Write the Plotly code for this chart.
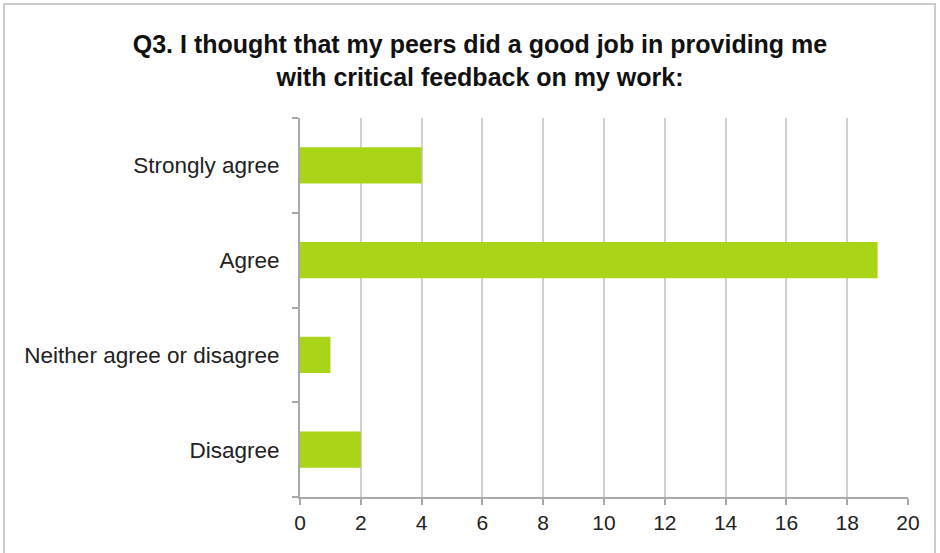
import plotly.graph_objects as go

categories = ["Strongly agree", "Agree", "Neither agree or disagree", "Disagree"]
counts = [4, 19, 1, 2]
x_ticks = list(range(0, 21, 2))

title_text = "<b>Q3. I thought that my peers did a good job in providing me<br>with critical feedback on my work:</b>"

W, H = 940, 553
L, R, T, B = 300, 32, 118, 56
pw, ph = W - L - R, H - T - B

fig = go.Figure(go.Bar(
    x=counts, y=categories, orientation="h",
    marker=dict(color="#aad418", line=dict(width=0)),
    width=0.38,
))

def px_to_paper(px, py):
    return (px - L) / pw, (H - B - py) / ph

x0, y0 = px_to_paper(4, 4)
x1, y1 = px_to_paper(935, 600)

fig.update_layout(
    width=W, height=H,
    margin=dict(l=L, r=R, t=T, b=B, autoexpand=False),
    paper_bgcolor="white", plot_bgcolor="white",
    showlegend=False,
    title=dict(text=title_text, x=(480 / W), xanchor="center", y=1 - 53 / H, yanchor="top",
               font=dict(family="Liberation Sans, Arial, sans-serif", size=25, color="#111111")),
    font=dict(family="Liberation Sans, Arial, sans-serif", size=22, color="#222222"),
    xaxis=dict(range=[0, 20], tickvals=x_ticks, showgrid=True, gridcolor="#d0d0d0", gridwidth=2,
               showline=True, linecolor="#a8a8a8", linewidth=2, ticks="outside", ticklen=6,
               tickcolor="#a8a8a8", tickwidth=2, zeroline=False, automargin=False,
               tickfont=dict(size=21, color="#222222")),
    yaxis=dict(categoryorder="array", categoryarray=categories[::-1], showgrid=False,
               showline=True, linecolor="#a8a8a8", linewidth=2, ticks="outside", ticklen=6,
               tickcolor="#a8a8a8", tickwidth=2, tickson="boundaries", ticklabelstandoff=14,
               automargin=False, tickfont=dict(size=22.5, color="#222222")),
    shapes=[dict(type="rect", xref="paper", yref="paper", x0=x0, y0=y1, x1=x1, y1=y0,
                 line=dict(color="#cccccc", width=2), fillcolor="rgba(0,0,0,0)", layer="below")],
)

fig.write_html("out.html", config={"displayModeBar": False},
               post_script="document.body.style.margin='0';")
